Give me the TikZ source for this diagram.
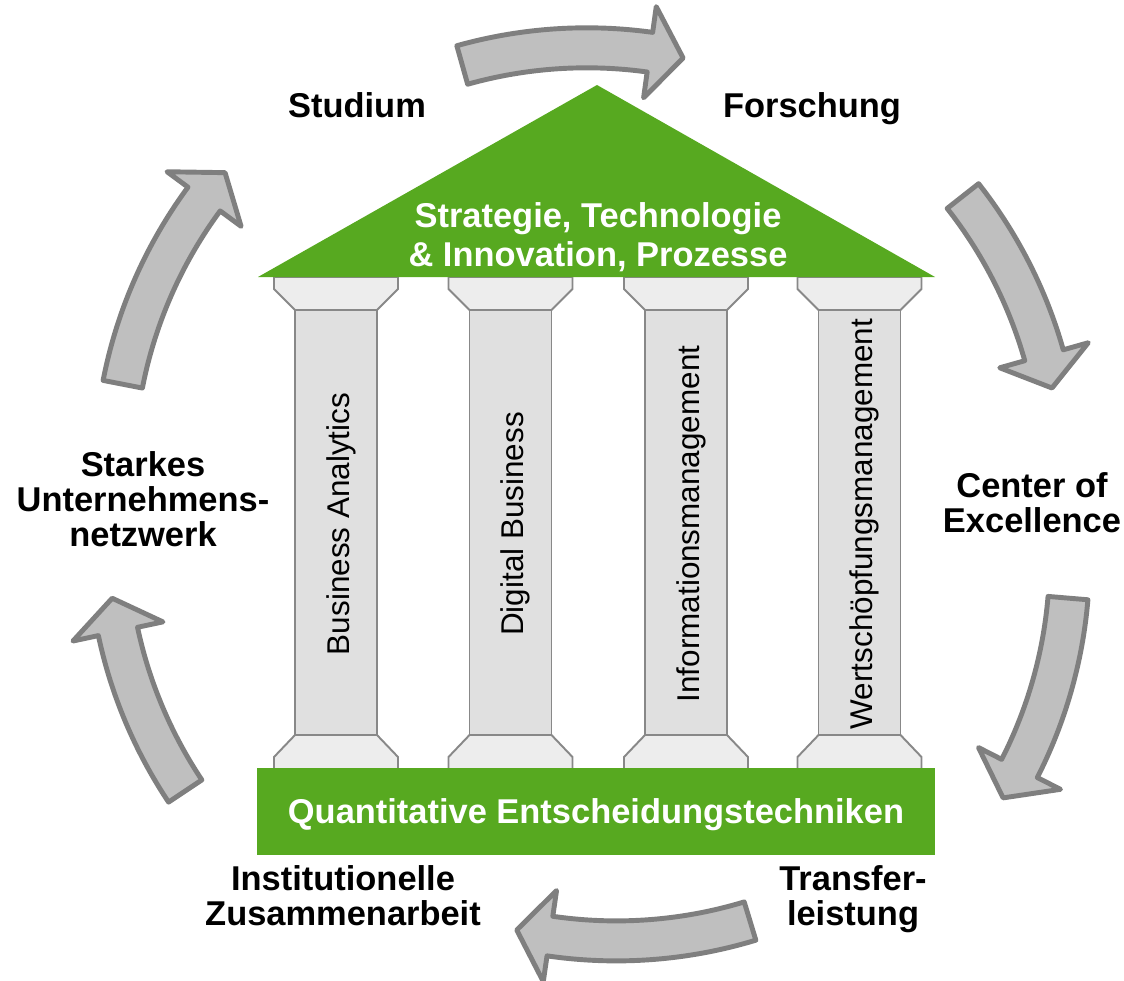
\documentclass[tikz,border=0pt]{standalone}
\usepackage{fontspec}
\setmainfont{Liberation Sans}
\usepackage{tikz}

\definecolor{houseGreen}{RGB}{87,169,32}
\definecolor{arrowFill}{RGB}{191,191,191}
\definecolor{arrowLine}{RGB}{127,127,127}
\definecolor{capitalFill}{RGB}{237,237,237}
\definecolor{shaftFill}{RGB}{224,224,224}
\definecolor{pillarLine}{RGB}{136,136,136}

% curved arrow: centre x, centre y, start angle, tip angle
\newcommand{\cyclearrow}[4]{%
  \begin{scope}[shift={(#1,#2)}]
    \draw[cycle arrow] (#3:480) arc[start angle=#3, end angle={#4-4.2}, radius=480]
      -- ({#4-4.2}:506) -- (#4:460) -- ({#4-4.2}:414) -- ({#4-4.2}:440)
      arc[start angle={#4-4.2}, end angle=#3, radius=440] -- cycle;
  \end{scope}}

% column: centre x
\newcommand{\drawpillar}[1]{%
  \draw[capital] ({#1-62},277) -- ({#1-62},289) -- ({#1-41},310) -- ({#1+41},310)
    -- ({#1+62},289) -- ({#1+62},277) -- cycle;
  \draw[shaft] ({#1-41},310) rectangle ({#1+41},735);
  \draw[capital] ({#1-41},735) -- ({#1-62},757) -- ({#1-62},770) -- ({#1+62},770)
    -- ({#1+62},757) -- ({#1+41},735) -- cycle;}

\begin{document}
\begin{tikzpicture}[x=0.02cm, y=-0.02cm,
    cycle arrow/.style={draw=arrowLine, fill=arrowFill, line width=2.8pt, line join=round},
    capital/.style={draw=pillarLine, fill=capitalFill, line width=1.1pt},
    shaft/.style={draw=pillarLine, fill=shaftFill, line width=1.1pt},
    cycle label/.style={font=\fontsize{19.6}{19.9}\selectfont\bfseries, align=center, inner sep=0pt},
    roof label/.style={font=\fontsize{19.6}{22.1}\selectfont\bfseries, align=center, inner sep=0pt, text=white},
    pillar label/.style={font=\fontsize{17.9}{20}\selectfont, rotate=90, inner sep=0pt}]
    \useasboundingbox (0,0) rectangle (1124,980);

    \cyclearrow{586.7}{507.8}{-105.7}{-77.9}
    \cyclearrow{601.4}{480.5}{-38.2}{-11.6}
    \cyclearrow{609.6}{559.6}{4.8}{31.2}
    \cyclearrow{616.3}{480.9}{73.1}{102.5}
    \cyclearrow{567.9}{535.8}{146.3}{172.2}
    \cyclearrow{574.3}{472}{191}{220.6}

    \drawpillar{336}
    \drawpillar{510.5}
    \drawpillar{686}
    \drawpillar{859.5}

    \fill[houseGreen] (258,277) -- (597,85) -- (935,277) -- cycle;
    \fill[houseGreen] (257,768) rectangle (935,855);

    \node[roof label] (roof) at (598,237) {Strategie, Technologie\\ \& Innovation, Prozesse};
    \node[roof label, anchor=base] (quant) at (596,823) {Quantitative Entscheidungstechniken};

    \node[pillar label] (ba) at (341,524) {Business Analytics};
    \node[pillar label] (db) at (515.5,524) {Digital Business};
    \node[pillar label] (im) at (691,524) {Informationsmanagement};
    \node[pillar label] (ws) at (864.5,524) {Wertschöpfungsmanagement};

    \node[cycle label, anchor=base] (studium) at (357,117) {Studium};
    \node[cycle label, anchor=base] (forschung) at (812,117) {Forschung};
    \node[cycle label] (coe) at (1032,503) {Center of\\Excellence};
    \node[cycle label] (transfer) at (853,899) {Transfer-\\leistung};
    \node[cycle label] (inst) at (343,896) {Institutionelle\\Zusammenarbeit};
    \node[cycle label] (netz) at (143,499) {Starkes\\Unternehmens-\\netzwerk};
  \end{tikzpicture}
\end{document}
